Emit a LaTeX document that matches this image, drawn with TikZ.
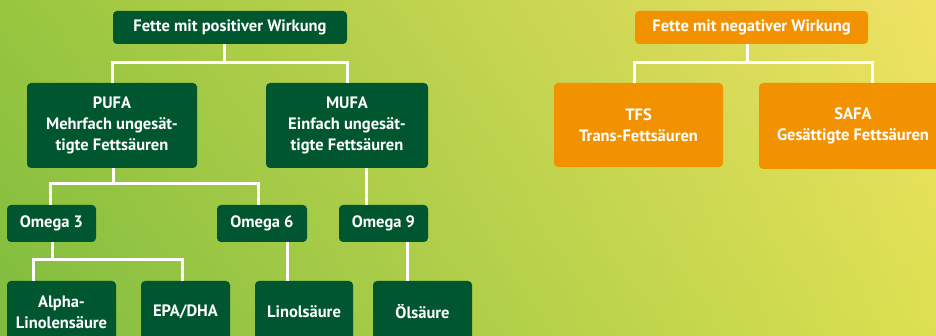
\documentclass[tikz,border=0pt]{standalone}
\usepackage{fontspec}
\setmainfont{PT Sans}
\usetikzlibrary{positioning,calc,shadings}
\definecolor{fgreen}{RGB}{0,86,46}
\definecolor{forange}{RGB}{243,146,0}
\definecolor{bgtl}{RGB}{152,198,62}
\definecolor{bgtr}{RGB}{240,226,100}
\definecolor{bgbl}{RGB}{126,188,64}
\definecolor{bgbr}{RGB}{220,224,80}

\begin{document}
\begin{tikzpicture}[
  x=1pt, y=-1pt,
  goodbox/.style={draw=none, rectangle, rounded corners=4pt, fill=fgreen, text=white, align=center, inner sep=0pt, font=\bfseries\fontsize{16.5}{21}\selectfont},
  badbox/.style={goodbox, fill=forange},
  link/.style={draw=white, line width=3pt}
]
\useasboundingbox (0,0) rectangle (936,336);
\clip (0,0) rectangle (936,336);
\shade[upper left=bgtl, upper right=bgtr, lower left=bgbl, lower right=bgbr] (0,0) rectangle (936,336);

\node[goodbox, minimum width=234pt, minimum height=33pt] (pos) at (230,27.5) {Fette mit positiver Wirkung};
\node[goodbox, minimum width=170pt, minimum height=85pt] (pufa) at (112,125.5) {PUFA\\Mehrfach ungesät-\\tigte Fettsäuren};
\node[goodbox, minimum width=162pt, minimum height=85pt] (mufa) at (347,125.5) {MUFA\\Einfach ungesät-\\tigte Fettsäuren};
\node[goodbox, minimum width=89pt, minimum height=37pt] (om3) at (51.5,223.5) {Omega 3};
\node[goodbox, minimum width=90pt, minimum height=37pt] (om6) at (262,223.5) {Omega 6};
\node[goodbox, minimum width=89pt, minimum height=37pt] (om9) at (383.5,223.5) {Omega 9};
\node[goodbox, minimum width=109pt, minimum height=62pt] (alpha) at (61.5,312) {Alpha-\\Linolensäure};
\node[goodbox, minimum width=89pt, minimum height=62pt] (epa) at (185.5,312) {EPA/DHA};
\node[goodbox, minimum width=98pt, minimum height=62pt] (lino) at (304,312) {Linolsäure};
\node[goodbox, minimum width=99pt, minimum height=62pt] (oel) at (422.5,312) {Ölsäure};

\node[badbox, minimum width=233pt, minimum height=33pt] (neg) at (751.5,27.5) {Fette mit negativer Wirkung};
\node[badbox, minimum width=169pt, minimum height=84pt] (tfs) at (638.5,125) {TFS\\Trans-Fettsäuren};
\node[badbox, minimum width=188pt, minimum height=86pt] (safa) at (853,126) {SAFA\\Gesättigte Fettsäuren};

\coordinate (jp) at (224,63);
\coordinate (ja) at (113,184);
\coordinate (jm) at (366,0);
\coordinate (jo) at (52,260);
\coordinate (jl) at (287,0);
\coordinate (jq) at (407,0);
\coordinate (jn) at (747,63);

\draw[link] (pos.south -| jp) -- (jp);
\draw[link] (pufa.north) |- (jp) -| (mufa.north);
\draw[link] (pufa.south -| ja) -- (ja);
\draw[link] ([xshift=-1.5pt]om3.north) |- (ja) -| ([xshift=-4pt]om6.north);
\draw[link] (mufa.south -| jm) -- (om9.north -| jm);
\draw[link] (om3.south -| jo) -- (jo);
\draw[link] ([xshift=-28.5pt]alpha.north) |- (jo) -| ([xshift=-3.5pt]epa.north);
\draw[link] (om6.south -| jl) -- (lino.north -| jl);
\draw[link] (om9.south -| jq) -- (oel.north -| jq);
\draw[link] (neg.south -| jn) -- (jn);
\draw[link] ([xshift=-4.5pt]tfs.north) |- (jn) -| ([xshift=19pt]safa.north);
\end{tikzpicture}
\end{document}
